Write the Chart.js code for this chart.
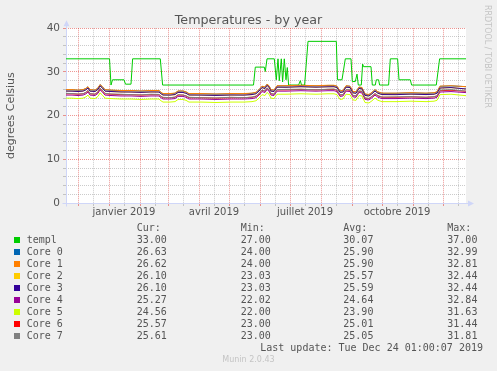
<!DOCTYPE html>
<html lang="fr">
<head>
<meta charset="UTF-8">
<title>Temperatures - by year</title>
<script src="https://cdn.jsdelivr.net/npm/chart.js@4.4.0/dist/chart.umd.min.js"></script>
<style>
    body { margin: 0; background: #f0f0f0; }
    #wrap { position: relative; width: 497px; height: 371px; overflow: hidden; }
    #chart { position: absolute; left: 0; top: 0; }
    .mono { position: absolute; font: 10px 'DejaVu Sans Mono', monospace; color: #555; line-height: 12px; white-space: pre; }
    .box { position: absolute; width: 6px; height: 6px; }
    #rrd { position: absolute; left: 483px; top: 5px; writing-mode: vertical-rl; font: 8px 'DejaVu Sans', sans-serif; color: #c4c4c4; }
    #munin { position: absolute; left: 0; top: 355px; width: 497px; text-align: center; font: 8px 'DejaVu Sans', sans-serif; color: #c4c4c4; }
</style>
</head>
<body>
<div id="wrap">
    <canvas id="chart" width="497" height="371"></canvas>
    <div id="rrd">RRDTOOL / TOBI OETIKER</div>
    <div id="munin">Munin 2.0.43</div>
</div>
<script>
// x values are days since the start of the 400-day window (Nov 20 2018 .. Dec 24 2019)
const monthStarts = [12, 43, 74, 102, 133, 163, 194, 224, 255, 286, 316, 347, 377];
const midMonths = [27, 58, 89, 117, 148, 178, 209, 239, 270, 301, 331, 362, 392];
const labelDays = [58, 148, 239, 331];
const labelTexts = ['janvier 2019', 'avril 2019', 'juillet 2019', 'octobre 2019'];

// templ sensor
const templDays = [0, 43.5, 45, 46.5, 58, 59.5, 65, 66.6, 94.3, 96.6,
    187.5, 189.3, 198.3, 199.3, 201, 208.3, 210.3, 212, 213.3, 215.3,
    216.6, 218.3, 220, 221.3, 222.6, 232.6, 234.3, 235.5, 238.6, 242,
    270.3, 271.5, 276, 279.3, 285, 286.3, 289.3, 291, 292.3, 295.3,
    296.6, 297.6, 305, 306.3, 309.3, 310.3, 312.6, 313.6, 322.6, 324.3,
    331.6, 333, 344.3, 345.6, 370.3, 373.6, 400];
const templValues = [33, 33, 27, 28.2, 28.2, 27.2, 27.2, 33, 33, 27,
    27, 31.1, 31.1, 30.1, 33, 33, 28.2, 33, 28, 33,
    27.7, 33, 28.2, 31, 27, 27, 28, 27, 27, 37,
    37, 28.2, 28.2, 33, 33, 27.8, 27.8, 29.5, 27, 27,
    31.8, 31.2, 31.2, 27, 27, 28.2, 28.2, 27, 27, 33,
    33, 28.2, 28.2, 27, 27, 33, 33];

// cores share one set of sample days
const coreDays = [0, 6, 12, 17, 20, 22, 24, 29, 32, 34,
    36, 39, 45, 55, 65, 75, 85, 93, 95, 97,
    104, 109, 112, 117, 120, 123, 135, 150, 165, 178,
    186, 190, 193, 196, 199, 201, 203, 205, 208, 211,
    220, 235, 250, 262, 268, 271, 274, 277, 280, 284,
    287, 290, 293, 296, 299, 303, 306, 309, 312, 316,
    330, 345, 360, 368, 371, 374, 385, 400];
const core0 = [25.9, 25.9, 25.8, 25.9, 26.2, 26.6, 25.9, 25.8, 26.3, 27.1,
    26.7, 25.9, 25.8, 25.7, 25.7, 25.6, 25.7, 25.7, 25.3, 25.0,
    25.0, 25.1, 25.6, 25.6, 25.4, 25.0, 25.0, 24.9, 25.0, 25.0,
    25.1, 25.3, 25.9, 26.7, 26.5, 27.2, 26.8, 25.9, 25.8, 26.8,
    26.8, 26.9, 26.8, 26.9, 26.9, 26.7, 25.6, 25.7, 26.8, 26.7,
    25.5, 25.4, 26.5, 26.4, 24.9, 24.8, 25.3, 25.9, 25.4, 25.1,
    25.1, 25.2, 25.1, 25.2, 25.4, 26.7, 26.8, 26.63];
const core1 = [25.95, 25.95, 25.85, 25.95, 26.25, 26.6, 25.95, 25.85, 26.35, 27.1,
    26.75, 25.95, 25.85, 25.75, 25.75, 25.65, 25.75, 25.75, 25.35, 25.05,
    25.05, 25.15, 25.65, 25.65, 25.45, 25.05, 25.05, 24.95, 25.05, 25.05,
    25.15, 25.35, 25.95, 26.75, 26.55, 27.2, 26.85, 25.95, 25.85, 26.85,
    26.85, 26.95, 26.85, 26.95, 26.95, 26.75, 25.65, 25.75, 26.85, 26.75,
    25.55, 25.45, 26.55, 26.45, 24.95, 24.85, 25.35, 25.95, 25.45, 25.15,
    25.15, 25.25, 25.15, 25.25, 25.45, 26.75, 26.85, 26.62];
const core2 = [25.6, 25.6, 25.5, 25.6, 25.9, 26.3, 25.6, 25.5, 26.0, 26.8,
    26.4, 25.6, 25.5, 25.4, 25.4, 25.3, 25.4, 25.4, 25.0, 24.7,
    24.7, 24.8, 25.3, 25.3, 25.1, 24.7, 24.7, 24.6, 24.7, 24.7,
    24.8, 25.0, 25.6, 26.4, 26.2, 26.9, 26.5, 25.6, 25.5, 26.5,
    26.5, 26.6, 26.5, 26.6, 26.6, 26.4, 25.3, 25.4, 26.5, 26.4,
    25.2, 25.1, 26.2, 26.1, 24.6, 24.5, 25.0, 25.6, 25.1, 24.8,
    24.8, 24.9, 24.8, 24.9, 25.1, 26.3, 26.4, 26.10];
const core3 = [25.62, 25.6, 25.52, 25.62, 25.92, 26.32, 25.6, 25.52, 26.02, 26.8,
    26.42, 25.6, 25.52, 25.42, 25.4, 25.32, 25.42, 25.4, 25.02, 24.72,
    24.7, 24.82, 25.32, 25.3, 25.12, 24.72, 24.7, 24.62, 24.72, 24.7,
    24.82, 25.02, 25.62, 26.42, 26.2, 26.92, 26.52, 25.62, 25.5, 26.52,
    26.5, 26.62, 26.52, 26.6, 26.62, 26.42, 25.32, 25.4, 26.52, 26.42,
    25.22, 25.1, 26.22, 26.12, 24.62, 24.5, 25.02, 25.62, 25.12, 24.82,
    24.8, 24.92, 24.82, 24.9, 25.12, 26.32, 26.42, 26.10];
const core4 = [24.7, 24.7, 24.6, 24.7, 25.0, 25.4, 24.7, 24.6, 25.1, 25.9,
    25.5, 24.7, 24.6, 24.5, 24.5, 24.4, 24.5, 24.5, 24.1, 23.8,
    23.8, 23.9, 24.4, 24.4, 24.2, 23.8, 23.8, 23.7, 23.8, 23.8,
    23.9, 24.1, 24.7, 25.5, 25.3, 26.0, 25.6, 24.7, 24.6, 25.6,
    25.6, 25.7, 25.6, 25.7, 25.7, 25.5, 24.4, 24.5, 25.6, 25.5,
    24.3, 24.2, 25.3, 25.2, 23.7, 23.6, 24.1, 24.7, 24.2, 23.9,
    23.9, 24.0, 23.9, 24.0, 24.2, 25.4, 25.5, 25.27];
const core5 = [24.0, 24.0, 23.9, 24.0, 24.3, 24.7, 24.0, 23.9, 24.4, 25.2,
    24.8, 24.0, 23.9, 23.8, 23.8, 23.7, 23.8, 23.8, 23.4, 23.1,
    23.1, 23.2, 23.7, 23.7, 23.5, 23.1, 23.1, 23.0, 23.1, 23.1,
    23.2, 23.4, 24.0, 24.8, 24.6, 25.3, 24.9, 24.0, 23.9, 24.9,
    24.9, 25.0, 24.9, 25.0, 25.0, 24.8, 23.7, 23.8, 24.9, 24.8,
    23.6, 23.5, 24.6, 24.5, 23.0, 22.9, 23.4, 24.0, 23.5, 23.2,
    23.2, 23.3, 23.2, 23.3, 23.5, 24.8, 24.9, 24.56];
const core6 = [25.0, 25.0, 24.9, 25.0, 25.3, 25.7, 25.0, 24.9, 25.4, 26.2,
    25.8, 25.0, 24.9, 24.8, 24.8, 24.7, 24.8, 24.8, 24.4, 24.1,
    24.1, 24.2, 24.7, 24.7, 24.5, 24.1, 24.1, 24.0, 24.1, 24.1,
    24.2, 24.4, 25.0, 25.8, 25.6, 26.3, 25.9, 25.0, 24.9, 25.9,
    25.9, 26.0, 25.9, 26.0, 26.0, 25.8, 24.7, 24.8, 25.9, 25.8,
    24.6, 24.5, 25.6, 25.5, 24.0, 23.9, 24.4, 25.0, 24.5, 24.2,
    24.2, 24.3, 24.2, 24.3, 24.5, 25.7, 25.8, 25.57];
const core7 = [25.1, 25.05, 24.95, 25.0, 25.35, 25.8, 25.05, 24.9, 25.45, 26.3,
    25.85, 25.1, 24.95, 24.9, 24.8, 24.75, 24.9, 24.85, 24.45, 24.2,
    24.1, 24.25, 24.8, 24.7, 24.55, 24.2, 24.1, 24.05, 24.2, 24.1,
    24.25, 24.5, 25.05, 25.9, 25.6, 26.35, 25.95, 25.1, 24.9, 25.95,
    26.0, 26.05, 25.9, 26.05, 26.1, 25.85, 24.75, 24.85, 25.95, 25.9,
    24.65, 24.5, 25.65, 25.6, 24.05, 23.95, 24.45, 25.05, 24.6, 24.25,
    24.3, 24.35, 24.2, 24.35, 24.55, 25.85, 25.95, 25.61];

// legend table
const seriesNames = ['templ', 'Core 0', 'Core 1', 'Core 2', 'Core 3', 'Core 4', 'Core 5', 'Core 6', 'Core 7'];
const curValues = [33.00, 26.63, 26.62, 26.10, 26.10, 25.27, 24.56, 25.57, 25.61];
const minValues = [27.00, 24.00, 24.00, 23.03, 23.03, 22.02, 22.00, 23.00, 23.00];
const avgValues = [30.07, 25.90, 25.90, 25.57, 25.59, 24.64, 23.90, 25.01, 25.05];
const maxValues = [37.00, 32.99, 32.81, 32.44, 32.44, 32.84, 31.63, 31.44, 31.81];
const seriesColors = ['#00cc00', '#0066b3', '#ff8000', '#ffcc00', '#330099', '#990099', '#ccff00', '#ff0000', '#808080'];

const coreSeries = [core0, core1, core2, core3, core4, core5, core6, core7];
const gridDays = monthStarts.concat(midMonths).sort((a, b) => a - b);

const MAJOR = 'rgba(222, 48, 41, 0.5)';
const MINOR = 'rgba(140, 140, 140, 0.45)';
const AXIS = '#cfd6f8';
const FONT = '#555';

const datasets = [{
    label: seriesNames[0],
    data: templDays.map((d, i) => ({ x: d, y: templValues[i] })),
    borderColor: seriesColors[0]
}];
coreSeries.forEach((vals, k) => {
    datasets.push({
        label: seriesNames[k + 1],
        data: coreDays.map((d, i) => ({ x: d, y: vals[i] })),
        borderColor: seriesColors[k + 1]
    });
});
// rrdtool paints in definition order, so the last series ends up on top
datasets.forEach((ds, i) => {
    ds.order = datasets.length - i;
    ds.borderWidth = 1;
    ds.pointRadius = 0;
    ds.tension = 0;
    ds.fill = false;
});

// white canvas behind the plot + the blue axes with arrows
const munStyle = {
    id: 'munStyle',
    beforeDraw(chart) {
        const { ctx, chartArea: a } = chart;
        ctx.save();
        ctx.fillStyle = '#ffffff';
        ctx.fillRect(a.left, a.top, a.right - a.left, a.bottom - a.top);
        ctx.restore();
    },
    beforeDatasetsDraw(chart) {
        const { ctx, chartArea: a } = chart;
        const x0 = Math.round(a.left) + 0.5;
        const y0 = Math.round(a.bottom) + 0.5;
        ctx.save();
        ctx.strokeStyle = AXIS;
        ctx.fillStyle = AXIS;
        ctx.lineWidth = 1;
        ctx.beginPath();
        ctx.moveTo(x0 - 4, y0);
        ctx.lineTo(a.right + 3, y0);
        ctx.moveTo(x0, y0 + 3);
        ctx.lineTo(x0, a.top - 3);
        ctx.stroke();
        ctx.beginPath();
        ctx.moveTo(a.right + 8, y0);
        ctx.lineTo(a.right + 2, y0 - 3);
        ctx.lineTo(a.right + 2, y0 + 3);
        ctx.closePath();
        ctx.fill();
        ctx.beginPath();
        ctx.moveTo(x0, a.top - 8);
        ctx.lineTo(x0 - 3, a.top - 2);
        ctx.lineTo(x0 + 3, a.top - 2);
        ctx.closePath();
        ctx.fill();
        ctx.restore();
    }
};

new Chart(document.getElementById('chart'), {
    type: 'line',
    data: { datasets: datasets },
    plugins: [munStyle],
    options: {
        responsive: false,
        animation: false,
        layout: { padding: { left: 0, right: 0, top: 0, bottom: 148 } },
        plugins: {
            legend: { display: false },
            tooltip: { enabled: false },
            title: {
                display: true,
                text: 'Temperatures - by year',
                color: FONT,
                font: { family: 'DejaVu Sans', size: 12.7, weight: 'normal' },
                padding: { top: 13, bottom: 0 }
            }
        },
        scales: {
            x: {
                type: 'linear',
                min: 0,
                max: 400,
                afterFit(scale) { scale.height = 20; },
                afterBuildTicks(scale) { scale.ticks = gridDays.map(v => ({ value: v })); },
                border: { display: false, dash: [1, 1] },
                grid: {
                    color: ctx => monthStarts.includes(ctx.tick.value) ? MAJOR : MINOR,
                    tickColor: ctx => monthStarts.includes(ctx.tick.value) ? MAJOR : MINOR,
                    tickLength: 3
                },
                ticks: {
                    autoSkip: false,
                    maxRotation: 0,
                    padding: 0,
                    color: FONT,
                    font: { family: 'DejaVu Sans', size: 10 },
                    callback: v => {
                        const i = labelDays.indexOf(v);
                        return i >= 0 ? labelTexts[i] : '';
                    }
                }
            },
            y: {
                min: 0,
                max: 40,
                afterFit(scale) { scale.width = 66; },
                border: { display: false, dash: [1, 1] },
                grid: {
                    color: ctx => ctx.tick.value % 10 === 0 ? MAJOR : MINOR,
                    tickColor: ctx => ctx.tick.value % 10 === 0 ? MAJOR : MINOR,
                    tickLength: 3
                },
                title: {
                    display: true,
                    text: 'degrees Celsius',
                    color: FONT,
                    font: { family: 'DejaVu Sans', size: 11 },
                    padding: { top: 5, bottom: 0 }
                },
                ticks: {
                    stepSize: 2,
                    autoSkip: false,
                    padding: 3,
                    color: FONT,
                    font: { family: 'DejaVu Sans', size: 10.5 },
                    callback: v => v % 10 === 0 ? String(v) : ''
                }
            },
            // empty right-hand strip, keeps the title centred on the whole image
            yRight: {
                position: 'right',
                min: 0,
                max: 40,
                afterFit(scale) { scale.width = 31; },
                border: { display: false },
                grid: { drawOnChartArea: false, drawTicks: false },
                ticks: { display: false }
            }
        }
    }
});

// legend, laid out like the rrdtool text block
const wrap = document.getElementById('wrap');
function addText(txt, left, top) {
    const d = document.createElement('div');
    d.className = 'mono';
    d.textContent = txt;
    d.style.left = left + 'px';
    d.style.top = top + 'px';
    wrap.appendChild(d);
    return d;
}
const cols = [136.7, 240.7, 343.3, 447.3];
['Cur:', 'Min:', 'Avg:', 'Max:'].forEach((h, c) => addText(h, cols[c], 222));
seriesNames.forEach((name, i) => {
    const top = 234 + 12 * i;
    const box = document.createElement('div');
    box.className = 'box';
    box.style.left = '14px';
    box.style.top = (top + 3) + 'px';
    box.style.background = seriesColors[i];
    wrap.appendChild(box);
    addText(name, 26.7, top);
    [curValues, minValues, avgValues, maxValues].forEach((arr, c) => addText(arr[i].toFixed(2), cols[c], top));
});
const upd = addText('Last update: Tue Dec 24 01:00:07 2019', 0, 342);
upd.style.left = 'auto';
upd.style.right = '14px';
</script>
</body>
</html>
